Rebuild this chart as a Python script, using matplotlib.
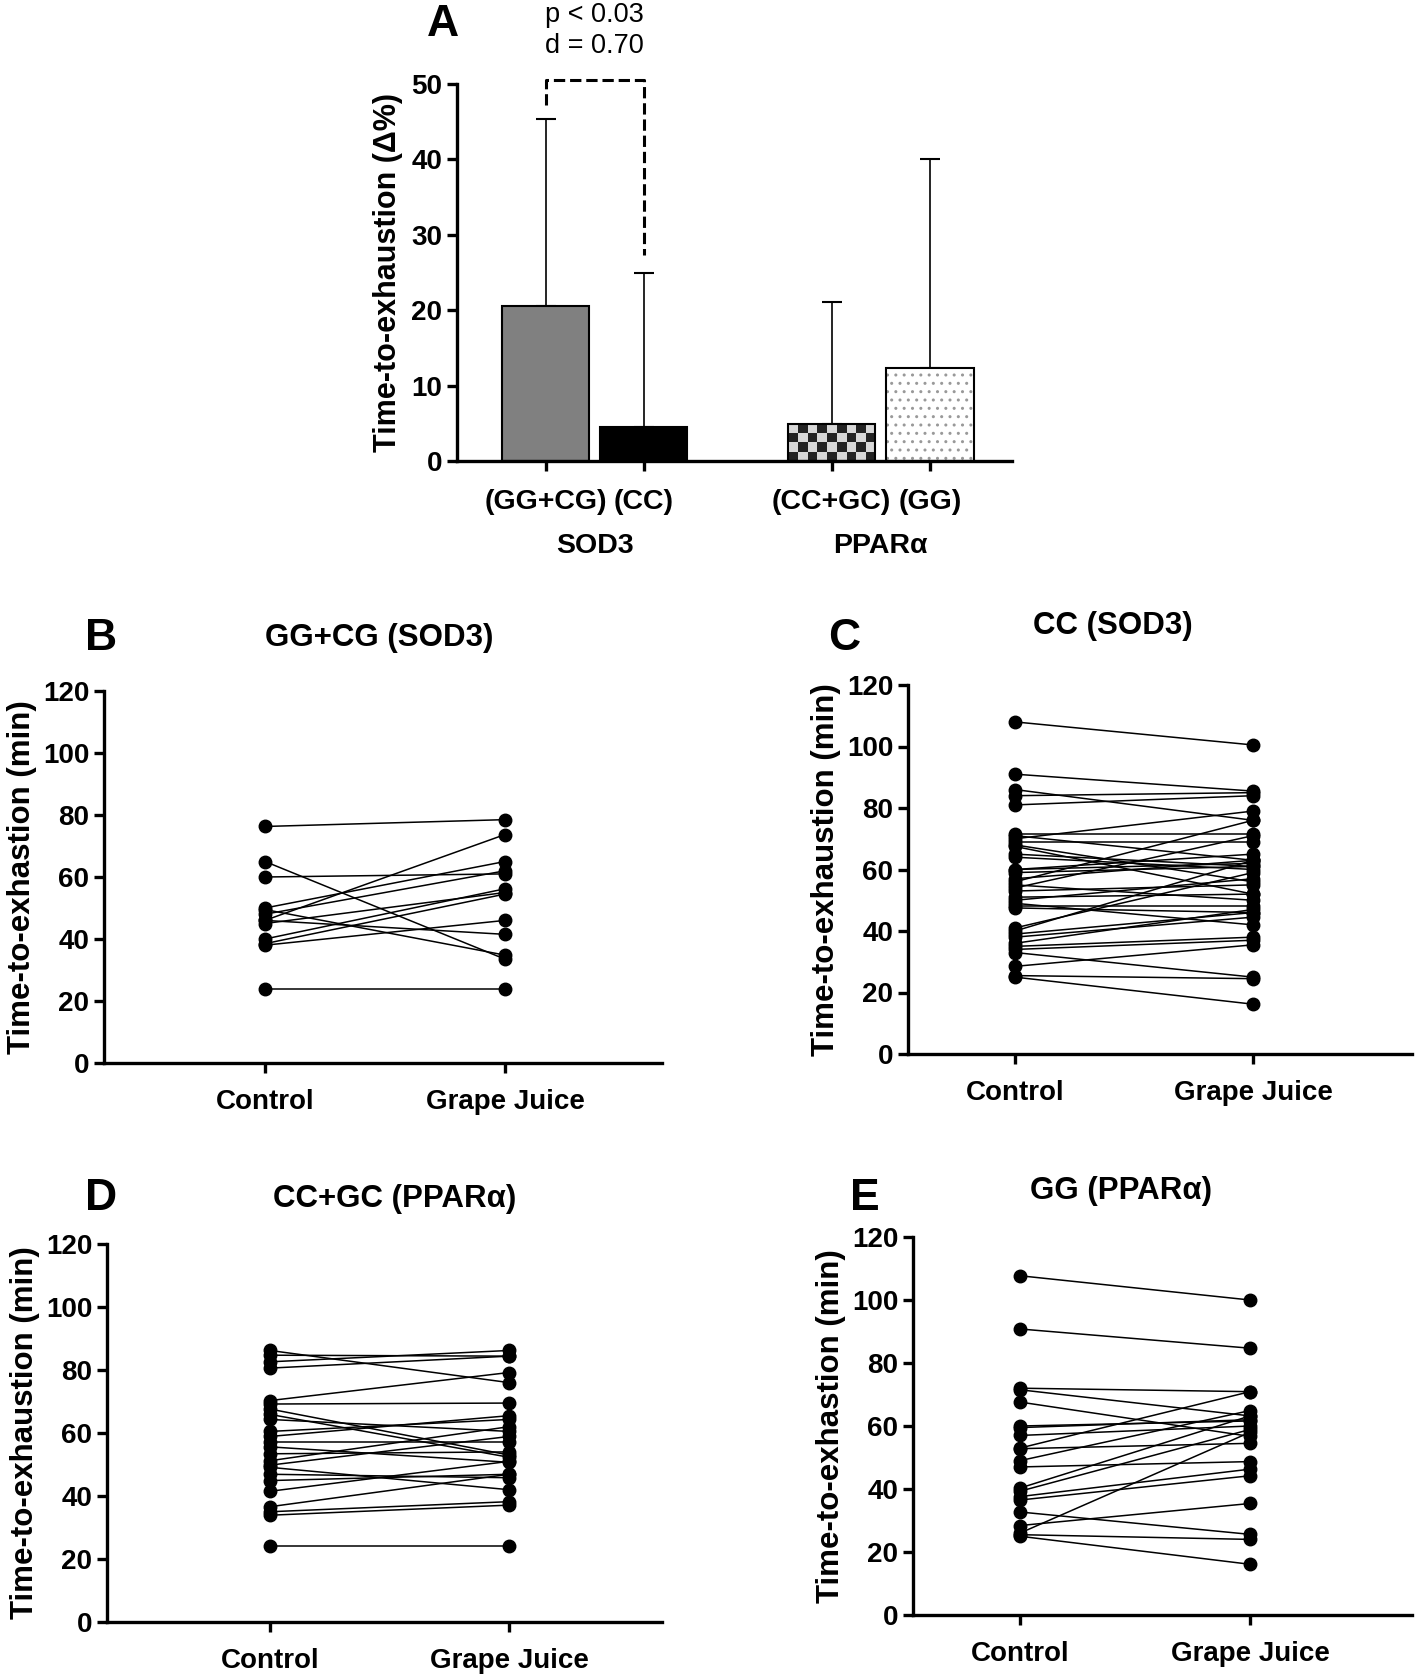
import numpy as np
import matplotlib.pyplot as plt

plt.rcParams['font.family'] = ['Liberation Sans', 'DejaVu Sans']
plt.rcParams['font.weight'] = 'bold'

# Panel A: change in time-to-exhaustion (mean, upper SD)
bar_labels = ['(GG+CG)', '(CC)', '(CC+GC)', '(GG)']
bar_groups = ['SOD3', 'PPAR\u03b1']
bar_means = [20.5, 4.5, 4.9, 12.4]
bar_sd = [24.9, 20.5, 16.2, 27.7]
p_text = 'p < 0.03\nd = 0.70'

conditions = ['Control', 'Grape Juice']

# Panel B: GG+CG (SOD3)
b_ctrl = [76.3, 65.0, 60.0, 50.0, 49.5, 48.0, 46.0, 46.0, 45.0, 40.0, 38.0, 38.5, 24.0]
b_gj = [78.5, 33.5, 61.0, 65.0, 34.8, 62.0, 73.7, 41.5, 55.0, 56.2, 46.0, 54.5, 24.0]

# Panel C: CC (SOD3)
c_ctrl = [108.0, 91.0, 86.0, 84.0, 81.0, 71.5, 71.0, 70.0, 69.0, 68.0, 67.5, 65.0, 64.0,
          60.0, 60.0, 59.0, 57.0, 56.0, 55.0, 54.0, 53.0, 51.0, 50.0, 49.0, 48.0, 47.5,
          41.0, 40.0, 39.0, 38.0, 36.0, 35.0, 34.0, 33.0, 28.5, 25.5, 25.0]
c_gj = [100.5, 85.5, 76.0, 85.0, 84.0, 71.5, 63.0, 79.0, 69.0, 56.0, 52.0, 61.0, 60.0,
        62.0, 65.0, 61.0, 63.0, 76.0, 50.0, 71.0, 55.0, 52.0, 57.0, 42.0, 48.0, 46.0,
        59.0, 63.0, 46.0, 44.5, 47.0, 38.0, 37.0, 25.0, 35.5, 24.5, 16.2]

# Panel D: CC+GC (PPARa)
d_ctrl = [86.2, 84.7, 82.6, 80.6, 70.3, 69.2, 67.6, 65.9, 64.3, 60.5, 58.9, 57.2, 55.6,
          53.4, 51.2, 49.8, 49.1, 46.9, 44.9, 41.5, 36.6, 35.0, 33.9, 24.0]
d_gj = [76.0, 84.4, 86.2, 84.4, 79.2, 69.5, 53.0, 52.3, 60.5, 64.3, 65.5, 57.2, 50.7,
        54.0, 62.0, 58.9, 42.0, 45.8, 46.9, 51.0, 46.9, 38.2, 37.1, 24.0]

# Panel E: GG (PPARa)
e_ctrl = [107.7, 90.8, 72.0, 71.5, 67.6, 60.0, 59.5, 57.0, 53.0, 52.8, 49.0, 47.0, 40.3,
          39.3, 37.6, 36.5, 32.7, 28.4, 26.0, 25.5, 25.0]
e_gj = [100.0, 84.7, 70.9, 63.2, 56.7, 61.6, 62.0, 60.0, 70.9, 54.5, 64.9, 48.7, 63.2,
        58.9, 46.3, 44.2, 25.6, 35.4, 58.0, 24.0, 16.1]

W, H = 1416, 1675
fig = plt.figure(figsize=(W / 100, H / 100), dpi=100)


def rect(l, t, r, b):
    return [l / W, 1 - b / H, (r - l) / W, (b - t) / H]


def style(ax, fs=20):
    for s in ['top', 'right']:
        ax.spines[s].set_visible(False)
    for s in ['left', 'bottom']:
        ax.spines[s].set_linewidth(2.4)
    ax.tick_params(width=2.4, length=7, labelsize=fs, direction='out')
    for t in ax.get_yticklabels() + ax.get_xticklabels():
        t.set_fontweight('bold')


# ---- Panel A ----
axA = fig.add_axes(rect(457, 84, 1012, 461))
xpos = np.array([0, 1, 2.913, 3.913])
axA.errorbar(xpos, bar_means, yerr=[np.zeros(4), bar_sd], fmt='none', ecolor='black',
             elinewidth=1.2, capsize=7.5, capthick=1.5, zorder=1)
axA.bar(xpos[0], bar_means[0], width=0.89, color='#808080', edgecolor='black', lw=1.5, zorder=2)
axA.bar(xpos[1], bar_means[1], width=0.89, color='black', edgecolor='black', lw=1.5, zorder=2)
# checkerboard bar
nx, ny = 9, 4
checker = (np.add.outer(np.arange(ny), np.arange(nx)) % 2)
axA.imshow(checker, extent=(xpos[2] - 0.445, xpos[2] + 0.445, 0, bar_means[2]),
           cmap='Greys', vmin=-0.4, vmax=1.2, aspect='auto', interpolation='nearest', zorder=2)
axA.bar(xpos[2], bar_means[2], width=0.89, fill=False, edgecolor='black', lw=1.5, zorder=3)
# dotted bar
axA.bar(xpos[3], bar_means[3], width=0.89, color='white', edgecolor='#999999', hatch='..',
        lw=0, zorder=2)
axA.bar(xpos[3], bar_means[3], width=0.89, fill=False, edgecolor='black', lw=1.5, zorder=3)
axA.plot([xpos[0], xpos[0], xpos[1], xpos[1]], [47.2, 50.5, 50.5, 27.3], ls='--',
         color='black', lw=2.2, clip_on=False, zorder=4)
axA.set_xlim(-0.902, 4.75)
axA.set_ylim(0, 50)
axA.set_yticks([0, 10, 20, 30, 40, 50])
axA.set_xticks(xpos)
axA.set_xticklabels([])
style(axA, fs=20)
axA.set_ylabel('Time-to-exhaustion (\u0394%)', fontsize=22, fontweight='bold', labelpad=6)
for x, lab in zip(xpos, bar_labels):
    axA.text(x, -0.075, lab, transform=axA.get_xaxis_transform(), ha='center', va='top',
             fontsize=20.5, fontweight='bold')
for x, lab in zip([0.5, 3.413], bar_groups):
    axA.text(x, -0.19, lab, transform=axA.get_xaxis_transform(), ha='center', va='top',
             fontsize=20.5, fontweight='bold')
axA.text(0.5 * (xpos[0] + xpos[1]), 1.065, p_text, transform=axA.get_xaxis_transform(),
         ha='center', va='bottom', fontsize=19.5, fontweight='normal', linespacing=1.25)
fig.text(443 / W, 1 - 25 / H, 'A', fontsize=32, fontweight='bold', ha='center', va='center')


# ---- Paired panels ----
def paired(box, cx, gx, ctrl, gj, title, title_xy, letter, letter_xy, ylab):
    l, t, r, b = box
    ax = fig.add_axes(rect(l, t, r, b))
    unit = gx - cx
    for c, g in zip(ctrl, gj):
        ax.plot([0, 1], [c, g], color='black', lw=1.1, marker='o', ms=9, zorder=3,
                clip_on=False)
    ax.set_xlim((l - cx) / unit, (r - cx) / unit)
    ax.set_ylim(0, 120)
    ax.set_yticks(range(0, 121, 20))
    ax.set_xticks([0, 1])
    ax.set_xticklabels(conditions)
    style(ax, fs=20)
    ax.tick_params(axis='x', pad=12)
    ax.set_ylabel(ylab, fontsize=22.5, fontweight='bold', labelpad=4)
    fig.text(title_xy[0] / W, 1 - title_xy[1] / H, title, fontsize=22.5, fontweight='bold',
             ha='center', va='center')
    fig.text(letter_xy[0] / W, 1 - letter_xy[1] / H, letter, fontsize=32, fontweight='bold',
             ha='center', va='center')
    return ax


paired((104, 691, 662, 1063), 265, 505, b_ctrl, b_gj, 'GG+CG (SOD3)', (379, 638),
       'B', (101, 638), 'Time-to-exhastion (min)')
paired((908, 685, 1412, 1054), 1015, 1253, c_ctrl, c_gj, 'CC (SOD3)', (1113, 626),
       'C', (844, 638), 'Time-to-exhaustion (min)')
paired((107, 1244, 662, 1622), 270, 509, d_ctrl, d_gj, 'CC+GC (PPAR\u03b1)', (395, 1199),
       'D', (101, 1199), 'Time-to-exhaustion (min)')
paired((913, 1237, 1412, 1615), 1020, 1250, e_ctrl, e_gj, 'GG (PPAR\u03b1)', (1121, 1191),
       'E', (865, 1199), 'Time-to-exhastion (min)')

fig.savefig('out.png', dpi=100)
